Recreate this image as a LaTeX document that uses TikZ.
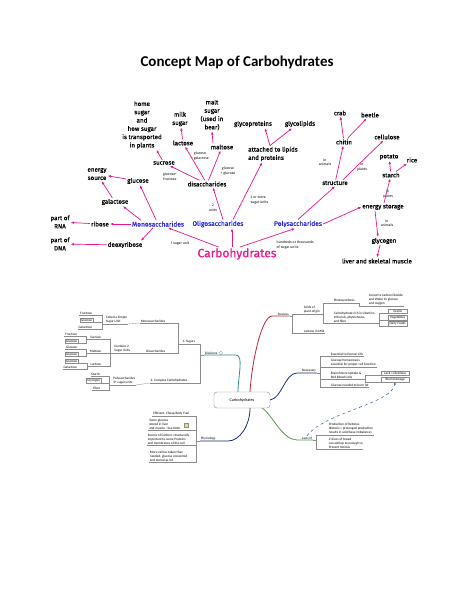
\documentclass[tikz,border=0pt]{standalone}
\usepackage{fontspec}
\setmainfont{Carlito}
\newfontfamily\cfont{Fira Sans}[FakeBold=0.6]
\newfontfamily\cfontthin{Fira Sans}
\usetikzlibrary{arrows.meta,positioning}
\definecolor{cpink}{RGB}{232,22,140}
\definecolor{cblue}{RGB}{40,40,220}
\definecolor{mmgray}{RGB}{140,140,140}
\definecolor{mmteal}{RGB}{50,140,140}
\definecolor{mmred}{RGB}{185,40,50}
\definecolor{mmnavy}{RGB}{30,45,115}
\definecolor{mmgreen}{RGB}{90,155,80}
\definecolor{mmdash}{RGB}{45,95,165}
\definecolor{mmnote}{RGB}{220,220,130}
\tikzset{
    cword/.style={font=\cfont\fontsize{6.2}{8.3}\selectfont, align=center, inner sep=1pt},
    cnote/.style={font=\cfontthin\fontsize{3.5}{4.6}\selectfont, align=center, inner sep=0.5pt},
    cclass/.style={cword, text=cblue, font=\cfont\fontsize{6.6}{8}\selectfont},
    croot/.style={cword, text=cpink, font=\cfont\fontsize{12}{14}\selectfont},
    carrow/.style={-{Latex[length=3.2pt,width=2.6pt]}, draw=cpink, line width=0.7pt},
    mtext/.style={font=\fontsize{3.4}{4}\selectfont, align=left, inner sep=0.7pt, anchor=south west},
    mline/.style={draw=mmgray, line width=0.3pt},
    mtopic/.style={mtext, append after command={(\tikzlastnode.south west) edge[mline] (\tikzlastnode.south east)}},
    mleft/.style={mtopic, anchor=south east},
    mbox/.style={mtext, draw=mmgray, line width=0.3pt, inner sep=0.8pt},
    mboxl/.style={mbox, anchor=south east},
    mbranch/.style={line width=0.8pt},
    mlink/.style={draw=mmdash, dashed, line width=0.5pt, -{Latex[length=2.5pt,width=2pt]}}
}
\begin{document}
\begin{tikzpicture}[x=1pt,y=-1pt]
    \fill[white] (0,0) rectangle (474,613);
    \useasboundingbox (0,0) rectangle (474,613);

    \node[font=\bfseries\fontsize{15}{18}\selectfont] (title) at (237,62) {Concept Map of Carbohydrates};

    % concept map
    \node[cword] (home) at (142,125) {home\\sugar\\and\\how sugar\\is transported\\in plants};
    \node[cword] (milk) at (180,119) {milk\\sugar};
    \node[cword] (malt) at (212,115) {malt\\sugar\\(used in\\bear)};
    \node[cword] (lactose) at (183,143) {lactose};
    \node[cword] (maltose) at (222,147) {maltose};
    \node[cword] (sucrose) at (164,163) {sucrose};
    \node[cword] (glucose) at (138,181) {glucose};
    \node[cword] (energysrc) at (97,174) {energy\\source};
    \node[cword] (disacch) at (207,184) {disaccharides};
    \node[cword] (glycoprot) at (253,124) {glycoproteins};
    \node[cword] (glycolip) at (300,124) {glycolipids};
    \node[cword, align=left, anchor=west] (attached) at (247,154) {attached to lipids\\and proteins};
    \node[cword] (crab) at (340,113) {crab};
    \node[cword] (beetle) at (370,115) {beetle};
    \node[cword] (chitin) at (344,142) {chitin};
    \node[cword] (cellulose) at (387,137) {cellulose};
    \node[cword] (structure) at (335,183) {structure};
    \node[cword] (potato) at (389,157) {potato};
    \node[cword] (rice) at (412,160) {rice};
    \node[cword] (starch) at (391,175) {starch};
    \node[cword] (energystor) at (383,207) {energy storage};
    \node[cword] (glycogen) at (384,241) {glycogen};
    \node[cword] (liver) at (377,261) {liver and skeletal muscle};
    \node[cword] (galactose) at (115,202) {galactose};
    \node[cword] (rna) at (60,222) {part of\\RNA};
    \node[cword] (dna) at (60,244) {part of\\DNA};
    \node[cword] (ribose) at (100,224) {ribose};
    \node[cword] (deoxyribose) at (125,245) {deoxyribose};
    \node[cclass] (mono) at (158,224) {Monosaccharides};
    \node[cclass] (oligo) at (218,224) {Oligosaccharides};
    \node[cclass] (poly) at (298,224) {Polysaccharides};
    \node[croot] (carbs) at (237,254) {Carbohydrates};

    \node[cnote] (galnote) at (200,156) {glucose\\+ galactose};
    \node[cnote] (frunote) at (170,177) {glucose+\\fructose};
    \node[cnote] (glunote) at (228,171) {glucose\\+ glucose};
    \node[cnote] (twonote) at (213,208) {2\\units};
    \node[cnote, align=left, anchor=west] (threenote) at (250,200) {3 or more\\sugar units};
    \node[cnote] (onenote) at (180,244) {1 sugar unit};
    \node[cnote, align=left, anchor=west] (hundnote) at (276,245) {hundreds or thousands\\of sugar units};
    \node[cnote] (animnote) at (325,162) {in\\animals};
    \node[cnote] (plantnote) at (362,167) {in\\plants};
    \node[cnote] (plantnote2) at (388,194) {in\\plants};
    \node[cnote] (animnote2) at (387,223) {in\\animals};

    \draw[carrow] (sucrose) -- (home);
    \draw[carrow] (lactose) -- (milk);
    \draw[carrow] ([xshift=-9pt]maltose.north) -- (malt.south);
    \draw[carrow] (disacch) -- (lactose);
    \draw[carrow] (disacch) -- (maltose);
    \draw[carrow] (disacch) -- (sucrose);
    \draw[carrow] (glucose) -- (energysrc);
    \draw[carrow] (galactose) -- (energysrc);
    \draw[carrow] (mono) -- (glucose);
    \draw[carrow] ([xshift=10pt]mono.north west) -- ([xshift=8pt]galactose.south);
    \draw[carrow] (mono.west) -- (ribose.east);
    \draw[carrow] ([xshift=-5pt]mono.south) -- ([xshift=16pt]deoxyribose.north);
    \draw[carrow] (ribose) -- (rna);
    \draw[carrow] (deoxyribose) -- (dna);
    \draw[carrow] (carbs) -- (mono);
    \draw[carrow] ([xshift=-5pt]carbs.north) -- ([xshift=14pt]oligo.south);
    \draw[carrow] ([xshift=3pt]carbs.north) -- ([xshift=-3pt]poly.south);
    \draw[carrow] ([xshift=5pt]oligo.north) -- ([xshift=6pt]disacch.south);
    \draw[carrow] ([xshift=15pt]oligo.north) -- ([xshift=15pt]attached.south west);
    \draw[carrow] ([xshift=-3pt]attached.north) -- ([xshift=12pt]glycoprot.south);
    \draw[carrow] ([xshift=-3pt]attached.north) -- ([xshift=-8pt]glycolip.south);
    \draw[carrow] (poly.north) -- (structure.south);
    \draw[carrow] (poly.east) -- (energystor.west);
    \draw[carrow] (structure) -- (chitin);
    \draw[carrow] ([xshift=8pt]structure.north) -- (cellulose);
    \draw[carrow] (chitin) -- (crab);
    \draw[carrow] (chitin) -- (beetle);
    \draw[carrow] (energystor) -- (starch);
    \draw[carrow] (starch) -- (potato);
    \draw[carrow] (starch) -- (rice);
    \draw[carrow] ([xshift=-8pt]energystor.south) -- ([xshift=-6pt]glycogen.north);
    \draw[carrow] ([xshift=-4pt]glycogen.south) -- (liver.north);

    % mind map
    \node[draw=mmgray, rounded corners=3pt, line width=0.4pt, minimum width=56pt, minimum height=16pt, font=\fontsize{4.2}{5}\selectfont] (cmap) at (242,400) {Carbohydrates};

    \node[mtext] (divis) at (204,355) {Divisions};
    \node[circle, draw=mmgray, line width=0.3pt, inner sep=0pt, minimum size=3.5pt, right=1pt of divis] (divicon) {};
    \node[mleft] (sugars) at (196,344) {1. Sugars};
    \node[mleft] (complex) at (188,383) {2. Complex Carbohydrates};
    \node[mleft] (mono2) at (166,323) {Monosaccharides};
    \node[mleft] (disacc2) at (166,353) {Disaccharides};
    \node[mleft] (simple) at (128,324) {Called a Simple\\Sugar Unit};
    \node[mleft] (fruc) at (93,315) {Fructose};
    \node[mboxl] (glua) at (93,322) {Glucose};
    \node[mleft] (gala) at (93,329) {Galactose};
    \node[mleft] (contains) at (131,353) {Contains 2\\Sugar Units};
    \node[mleft] (sucr) at (102,339) {Sucrose};
    \node[mleft] (malt2) at (102,353) {Maltose};
    \node[mleft] (lact) at (102,366) {Lactose};
    \node[mleft] (frucb) at (78,336) {Fructose};
    \node[mboxl] (glub) at (78,343) {Glucose};
    \node[mleft] (gluc) at (78,349) {Glucose};
    \node[mboxl] (glud) at (78,356) {Glucose};
    \node[mboxl] (glue) at (78,363) {Glucose};
    \node[mleft] (galb) at (78,369) {Galactose};
    \node[mleft] (polys) at (136,385) {Polysaccharides\\3+ sugar units};
    \node[mleft] (starch2) at (101,376) {Starch};
    \node[mboxl] (glycog2) at (101,383) {Glycogen};
    \node[mleft] (fiber) at (101,390) {Fiber};

    \draw[mbranch, mmteal] (divis.south west) -- (236,355) .. controls (244,355) and (238,376) .. ([xshift=-4pt]cmap.north);
    \draw[mline] (sugars.south east) -| ([xshift=-4pt]divis.south west) -- (divis.south west);
    \draw[mline] (complex.south east) -| ([xshift=-4pt]divis.south west);
    \draw[mline] (mono2.south east) -| ([xshift=-3pt]sugars.south west) -- (sugars.south west);
    \draw[mline] (disacc2.south east) -| ([xshift=-3pt]sugars.south west);
    \draw[mline] (simple.south east) -- (mono2.south west);
    \draw[mline] (fruc.south east) -| ([xshift=-3pt]simple.south west) -- (simple.south west);
    \draw[mline] (glua.south east) -| ([xshift=-3pt]simple.south west);
    \draw[mline] (gala.south east) -| ([xshift=-3pt]simple.south west);
    \draw[mline] (contains.south east) -- (disacc2.south west);
    \draw[mline] (sucr.south east) -| ([xshift=-3pt]contains.south west) -- (contains.south west);
    \draw[mline] (malt2.south east) -| ([xshift=-3pt]contains.south west);
    \draw[mline] (lact.south east) -| ([xshift=-3pt]contains.south west);
    \draw[mline] (frucb.south east) -| ([xshift=-3pt]sucr.south west) -- (sucr.south west);
    \draw[mline] (glub.south east) -| ([xshift=-3pt]sucr.south west);
    \draw[mline] (gluc.south east) -| ([xshift=-3pt]malt2.south west) -- (malt2.south west);
    \draw[mline] (glud.south east) -| ([xshift=-3pt]malt2.south west);
    \draw[mline] (glue.south east) -| ([xshift=-3pt]lact.south west) -- (lact.south west);
    \draw[mline] (galb.south east) -| ([xshift=-3pt]lact.south west);
    \draw[mline] (polys.south east) -- (complex.south west);
    \draw[mline] (starch2.south east) -| ([xshift=-3pt]polys.south west) -- (polys.south west);
    \draw[mline] (glycog2.south east) -| ([xshift=-3pt]polys.south west);
    \draw[mline] (fiber.south east) -| ([xshift=-3pt]polys.south west);

    \node[mtext] (sources) at (277,316) {Sources};
    \node[mtopic] (acids) at (303,314) {Acids of\\plant origin};
    \node[mtopic] (lactmilk) at (303,333) {Lactose in Milk};
    \node[mtopic] (photo) at (333,303) {Photosynthesis};
    \node[mtopic] (rich) at (333,323) {Carbohydrate rich in vitamins,\\Minerals, phytochems,\\and fiber};
    \node[mtopic] (converts) at (368,306) {Converts Carbon Dioxide\\and Water to glucose\\and oxygen};
    \node[mbox, minimum width=19pt] (grains) at (388,313) {Grains};
    \node[mbox, minimum width=19pt] (veg) at (388,320) {Vegetables};
    \node[mbox, minimum width=19pt] (dairy) at (388,326) {Dairy Foods};

    \draw[mbranch, mmred] (sources.south east) -- (272,316) .. controls (262,316) and (252,360) .. ([xshift=8pt]cmap.north);
    \draw[mline] (sources.south east) -- ++(3,0) |- (acids.south west);
    \draw[mline] (sources.south east) -- ++(3,0) |- (lactmilk.south west);
    \draw[mline] (acids.south east) -- ++(3,0) |- (photo.south west);
    \draw[mline] (acids.south east) -- ++(3,0) |- (rich.south west);
    \draw[mline] (photo.south east) -- ++(3,0) |- (converts.south west);
    \draw[mline] (rich.south east) -- ++(3,0) |- (grains.south west);
    \draw[mline] (rich.south east) -- ++(3,0) |- (veg.south west);
    \draw[mline] (rich.south east) -- ++(3,0) |- (dairy.south west);

    \node[mtext] (necess) at (301,373) {Necessary};
    \node[mtopic] (essent) at (330,356) {Essential to Human Life};
    \node[mtopic] (homeo) at (330,367) {Glucose homeostasis\\essential for proper cell function};
    \node[mtopic] (brainup) at (330,379) {Brain/Nerve Uptake \&\\Red Blood Cells};
    \node[mtopic] (burnfat) at (330,387) {Glucose needed to burn fat};
    \node[mbox, minimum width=28pt] (dizzy) at (381,375) {Lack = Dizziness};
    \node[mbox, minimum width=28pt] (braindmg) at (381,382) {Brain Damage};

    \draw[mbranch, mmnavy] (necess.south east) -- (297,373) .. controls (285,373) and (282,398) .. (cmap.east);
    \draw[mline] (necess.south east) -- ++(3,0) |- (essent.south west);
    \draw[mline] (necess.south east) -- ++(3,0) |- (homeo.south west);
    \draw[mline] (necess.south east) -- ++(3,0) |- (brainup.south west);
    \draw[mline] (necess.south east) -- ++(3,0) |- (burnfat.south west);
    \draw[mline] (brainup.south east) -- ++(3,0) |- (dizzy.south west);
    \draw[mline] (brainup.south east) -- ++(3,0) |- (braindmg.south west);

    \node[mtext] (lackof) at (301,440) {Lack Of};
    \node[mtopic] (ketones) at (328,435) {Production of Ketones\\(Ketosis = prolonged production\\results in acid/base imbalance)};
    \node[mtopic] (bread) at (328,449) {2 slices of bread\\can add up to enough to\\Prevent Ketosis};

    \draw[mbranch, mmgreen] (lackof.south east) -- (297,440) .. controls (282,440) and (272,414) .. ([xshift=-8pt]cmap.south east);
    \draw[mline] (lackof.south east) -- ++(3,0) |- (ketones.south west);
    \draw[mline] (lackof.south east) -- ++(3,0) |- (bread.south west);
    \draw[mlink] (lackof.north) .. controls (325,412) and (392,404) .. (braindmg.south);

    \node[mtext] (physio) at (200,441) {Physiology};
    \node[mleft] (effic) at (190,416) {Efficient, Cheap Body Fuel};
    \node[mleft] (someglu) at (181,430) {Some glucose\\stored in liver\\and muscle - See Note};
    \node[fill=mmnote, draw=mmgray, line width=0.2pt, minimum size=4pt, inner sep=0pt] (noteicon) at (186,425) {};
    \node[mleft] (carbon) at (190,445) {Source of Carbon: structurally\\important to some Proteins\\and membranes of the cell};
    \node[mleft] (morecarb) at (188,462) {More carbos taken than\\needed, glucose converted\\and stored as fat};

    \draw[mbranch, mmnavy] (physio.south west) -- (228,441) .. controls (240,441) and (250,425) .. ([xshift=8pt]cmap.south);
    \draw[mline] (effic.south east) -| ([xshift=-4pt]physio.south west) -- (physio.south west);
    \draw[mline] (someglu.south east) -| ([xshift=-4pt]physio.south west);
    \draw[mline] (carbon.south east) -| ([xshift=-4pt]physio.south west);
    \draw[mline] (morecarb.south east) -| ([xshift=-4pt]physio.south west);
\end{tikzpicture}
\end{document}
